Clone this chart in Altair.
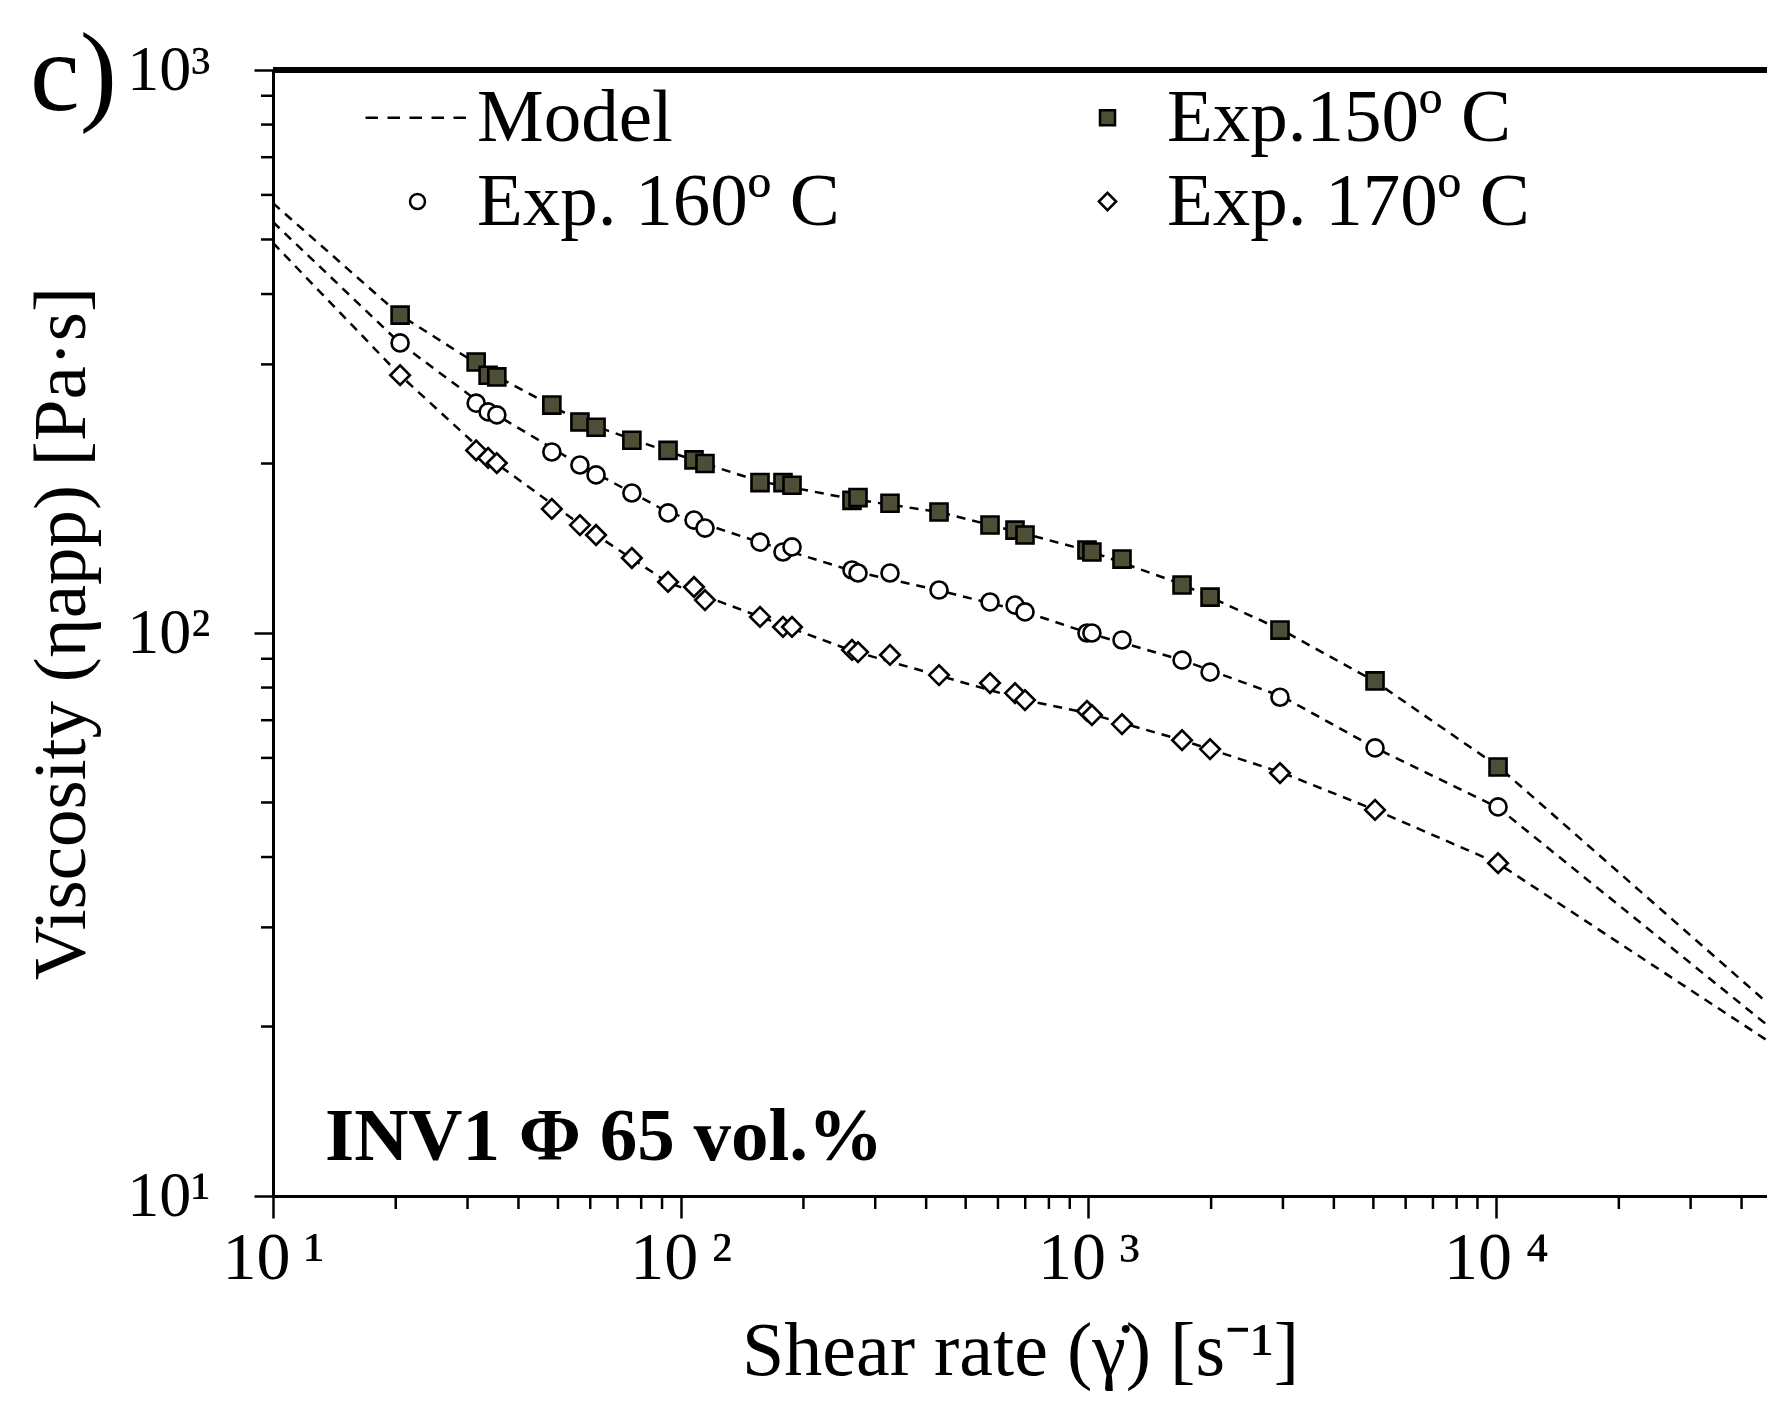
import altair as alt
import pandas as pd

# ---------------- data ----------------
shear_rate = [20.5, 31.5, 33.7, 35.4, 48.3, 56.6, 62.0, 75.9, 93.1, 107.8, 114.7,
              156.5, 178.2, 187.5, 263.1, 272.2, 326.1, 430.1, 573.7, 660.7, 699.0,
              992, 1020, 1209, 1697, 1988, 2951, 5047, 10110]
visc_150 = [367, 303, 287, 285, 254, 237, 232, 220, 211, 203, 200,
            185, 185, 183, 172, 174, 170, 164, 155.5, 152.3, 149.3,
            140.4, 139.3, 135.3, 121.7, 115.8, 101.2, 82.2, 57.8]
visc_160 = [327.5, 256, 247, 244, 209.7, 198.8, 190.9, 177.3, 163.4, 158.7, 153.6,
            145.0, 139.3, 142.2, 129.4, 127.8, 127.8, 119.2, 113.5, 112.1, 109.0,
            100, 100, 97.2, 89.5, 85.2, 76.9, 62.5, 49.1]
visc_170 = [287, 211, 204.6, 200.4, 166.1, 155.5, 149.3, 135.9, 123.2, 120.7, 114.4,
            106.8, 102.5, 102.5, 93.3, 92.5, 91.4, 84.2, 81.5, 78.2, 76.0,
            72.7, 71.5, 68.9, 64.5, 62.2, 56.4, 48.5, 39.0]

model_rate = [10, 20.5, 35, 56.6, 93, 156, 263, 430, 700, 1000, 1700, 3000, 5050, 10100, 46700]
model_150 = [580, 367, 287, 238, 210, 186, 173, 164, 150, 140, 122, 101, 82, 58, 21.9]
model_160 = [537, 327, 245, 199, 164, 145, 129, 119, 109, 100, 89.5, 77, 62.5, 49, 20.0]
model_170 = [493, 287, 201, 156, 123, 107, 93, 84, 76, 72, 64.5, 56.4, 48.5, 39, 18.8]

series_names = ["Model", "Exp.150º C", "Exp. 160º C", "Exp. 170º C"]
x_major = [10, 100, 1000, 10000]
y_major = [10, 100, 1000]
x_minor_mult = [2, 3, 4, 5, 6, 7, 8, 9]

annotation = "INV1 Φ 65 vol.%"
panel_label = "c)"
x_title = "Shear rate (γ̇) [s⁻¹]"
y_title = "Viscosity (ηapp) [Pa·s]"

# ---------------- build tables ----------------
W, H = 1494, 1126
XMAX = 10 ** (1 + W / 407.7)

pts = pd.DataFrame({
    "rate": shear_rate * 3,
    "visc": visc_150 + visc_160 + visc_170,
    "series": [series_names[1]] * len(shear_rate) + [series_names[2]] * len(shear_rate)
              + [series_names[3]] * len(shear_rate),
})
lines = pd.DataFrame({
    "rate": model_rate * 3,
    "visc": model_150 + model_160 + model_170,
    "temp": ["150"] * len(model_rate) + ["160"] * len(model_rate) + ["170"] * len(model_rate),
})
x_minor = pd.DataFrame({"v": [k * d for d in x_major for k in x_minor_mult if k * d <= XMAX]})
y_minor = pd.DataFrame({"v": [k * d for d in y_major[:-1] for k in x_minor_mult]})

FONT = "Liberation Serif"
MODEL_PATH = "M-6.93,0H-5.27M-4,0H-2.33M-1.07,0H0.6M1.87,0H3.53M4.8,0H6.47"
DIAMOND_PATH = "M-1.15,0L0,-1.15L1.15,0L0,1.15Z"

xscale = alt.Scale(type="log", domain=[10, XMAX], nice=False)
yscale = alt.Scale(type="log", domain=[10, 1000], nice=False)

x_axis = alt.Axis(
    values=x_major, title=x_title,
    labelExpr="datum.value == 10 ? '10\u2009¹' : datum.value == 100 ? '10\u2009²' : "
              "datum.value == 1000 ? '10\u2009³' : datum.value == 10000 ? '10\u2009⁴' : ''",
    labelFont=FONT, labelFontSize=68, labelColor="black", labelPadding=6,
    labelFlush=False, labelOverlap=False, labelBound=False,
    tickSize=22, tickWidth=2.5, tickColor="black",
    domainColor="black", domainWidth=3, grid=False,
    titleFont=FONT, titleFontSize=76, titleFontWeight="normal", titleColor="black",
    titlePadding=22,
)
y_axis = alt.Axis(
    values=y_major, title=y_title,
    labelExpr="datum.value == 10 ? '10¹' : datum.value == 100 ? '10²' : "
              "datum.value == 1000 ? '10³' : ''",
    labelFont=FONT, labelFontSize=64, labelColor="black", labelPadding=44,
    labelFlush=False, labelOverlap=False, labelBound=False,
    tickSize=19, tickWidth=2.5, tickColor="black",
    domainColor="black", domainWidth=3, grid=False,
    titleFont=FONT, titleFontSize=75, titleFontWeight="normal", titleColor="black",
    titlePadding=26,
)

legend = alt.Legend(
    title=None, orient="none", legendX=107, legendY=10, columns=2, direction="horizontal",
    columnPadding=230, rowPadding=8, padding=0,
    labelFont=FONT, labelFontSize=75, labelColor="black", labelLimit=1000,
    labelOffset=22, symbolSize=225, symbolStrokeWidth=2.5, symbolStrokeColor="black",
)

base_x = alt.X("rate:Q", scale=xscale, axis=x_axis)
base_y = alt.Y("visc:Q", scale=yscale, axis=y_axis)

model_lines = alt.Chart(lines).mark_line(
    color="black", strokeWidth=2.5, strokeDash=[9, 7], clip=True
).encode(x=base_x, y=base_y, detail="temp:N")

points = alt.Chart(pts).mark_point(
    filled=True, size=290, strokeWidth=2.6, opacity=1
).encode(
    x=base_x, y=base_y,
    shape=alt.Shape("series:N", legend=legend,
                    scale=alt.Scale(domain=series_names,
                                    range=[MODEL_PATH, "square", "circle", DIAMOND_PATH])),
    fill=alt.Fill("series:N", legend=legend,
                  scale=alt.Scale(domain=series_names,
                                  range=["white", "#4e4e36", "white", "white"])),
    stroke=alt.Stroke("series:N", legend=legend,
                      scale=alt.Scale(domain=series_names,
                                      range=["black", "black", "black", "black"])),
)

x_minor_ticks = alt.Chart(x_minor).mark_rule(color="black", strokeWidth=2.5).encode(
    x=alt.X("v:Q", scale=xscale), y=alt.value(H), y2=alt.value(H + 13)
)
y_minor_ticks = alt.Chart(y_minor).mark_rule(color="black", strokeWidth=2.5).encode(
    y=alt.Y("v:Q", scale=yscale), x=alt.value(0), x2=alt.value(-12)
)

top_border = alt.Chart(pd.DataFrame({"a": [0]})).mark_rule(color="black", strokeWidth=6).encode(
    x=alt.value(0), x2=alt.value(W), y=alt.value(0)
)

note = alt.Chart(pd.DataFrame({"t": [annotation]})).mark_text(
    font=FONT, fontSize=75, fontWeight="bold", align="left", baseline="alphabetic", color="black"
).encode(text="t:N", x=alt.value(52), y=alt.value(1090))

panel = alt.Chart(pd.DataFrame({"t": [panel_label]})).mark_text(
    font=FONT, fontSize=112, align="left", baseline="alphabetic", color="black"
).encode(text="t:N", x=alt.value(-243), y=alt.value(40))

chart = alt.layer(
    model_lines, points, x_minor_ticks, y_minor_ticks, top_border, note, panel
).properties(
    width=W, height=H,
    padding={"left": 273, "top": 70, "right": 0, "bottom": 200},
    autosize=alt.AutoSizeParams(type="none"),
).configure_view(stroke=None)

chart.save("out.html", embed_options={"renderer": "svg", "actions": False})
